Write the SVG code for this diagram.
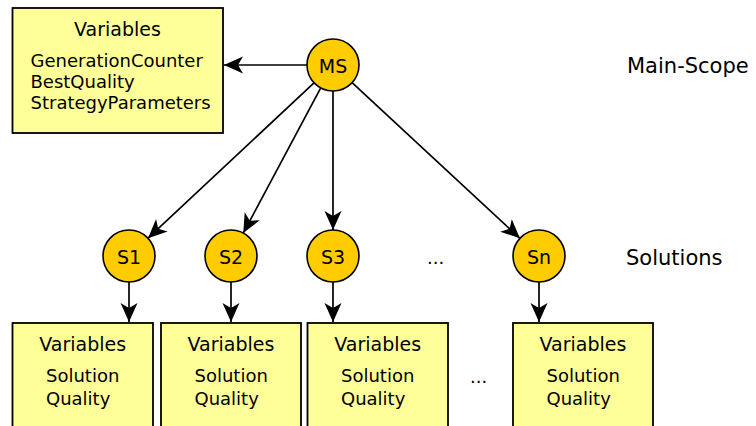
<svg xmlns="http://www.w3.org/2000/svg" width="756" height="426" viewBox="0 0 756 426">
  <style>
    .box { fill: #ffff99; stroke: #000; stroke-width: 1.8; }
    .node { fill: #ffcc00; stroke: #000; stroke-width: 1.6; }
    .edge { fill: none; stroke: #000; stroke-width: 1.7; marker-end: url(#arrow); }
    text { font-family: "DejaVu Sans", "Liberation Sans", sans-serif; fill: #000; }
    .title { font-size: 19px; text-anchor: middle; }
    .item { font-size: 18px; }
    .lbl { font-size: 19px; text-anchor: middle; }
    .side { font-size: 21px; }
    .dots { font-size: 18px; }
  </style>
  <defs>
    <!-- concave filled arrowhead, tip at the end of the line -->
    <marker id="arrow" markerUnits="userSpaceOnUse" orient="auto" markerWidth="22" markerHeight="20" refX="19" refY="10" viewBox="0 0 22 20">
      <path d="M19,10 L0,1.5 L5,10 L0,18.5 Z" fill="#000"/>
    </marker>
  </defs>

  <!-- connectors -->
  <g id="connectors">
    <line class="edge" x1="307" y1="65" x2="224" y2="65"/>
    <line class="edge" x1="314" y1="82.8" x2="148" y2="238.2"/>
    <line class="edge" x1="320.75" y1="87.9" x2="243.25" y2="233.1"/>
    <line class="edge" x1="333" y1="91" x2="333" y2="230"/>
    <line class="edge" x1="352.07" y1="82.68" x2="519.93" y2="238.32"/>
    <line class="edge" x1="129" y1="282" x2="129" y2="322"/>
    <line class="edge" x1="231" y1="282" x2="231" y2="322"/>
    <line class="edge" x1="333" y1="282" x2="333" y2="322"/>
    <line class="edge" x1="539" y1="282" x2="539" y2="322"/>
  </g>

  <!-- main scope variables -->
  <g id="main-vars">
    <rect class="box" x="12.5" y="8" width="210.5" height="125"/>
    <text class="title" x="117.5" y="36">Variables</text>
    <text class="item" x="30.5" y="67">GenerationCounter</text>
    <text class="item" x="30.5" y="88">BestQuality</text>
    <text class="item" x="30.5" y="109">StrategyParameters</text>
  </g>

  <g id="ms">
    <circle class="node" cx="333" cy="65" r="26"/>
    <text class="lbl" x="333" y="72.5">MS</text>
  </g>

  <g id="s1">
    <circle class="node" cx="129" cy="256" r="26"/>
    <text class="lbl" x="129" y="264">S1</text>
  </g>
  <g id="s2">
    <circle class="node" cx="231" cy="256" r="26"/>
    <text class="lbl" x="231" y="264">S2</text>
  </g>
  <g id="s3">
    <circle class="node" cx="333" cy="256" r="26"/>
    <text class="lbl" x="333" y="264">S3</text>
  </g>
  <g id="sn">
    <circle class="node" cx="539" cy="256" r="26"/>
    <text class="lbl" x="539" y="264">Sn</text>
  </g>

  <!-- solution variables -->
  <g id="vars1">
    <rect class="box" x="12.5" y="323" width="140.5" height="120"/>
    <text class="title" x="82.75" y="351">Variables</text>
    <text class="item" x="46" y="382">Solution</text>
    <text class="item" x="46" y="405">Quality</text>
  </g>
  <g id="vars2">
    <rect class="box" x="161" y="323" width="140" height="120"/>
    <text class="title" x="231" y="351">Variables</text>
    <text class="item" x="194.5" y="382">Solution</text>
    <text class="item" x="194.5" y="405">Quality</text>
  </g>
  <g id="vars3">
    <rect class="box" x="307.5" y="323" width="140.5" height="120"/>
    <text class="title" x="377.75" y="351">Variables</text>
    <text class="item" x="341" y="382">Solution</text>
    <text class="item" x="341" y="405">Quality</text>
  </g>
  <g id="varsn">
    <rect class="box" x="513" y="323" width="140" height="120"/>
    <text class="title" x="583" y="351">Variables</text>
    <text class="item" x="546.5" y="382">Solution</text>
    <text class="item" x="546.5" y="405">Quality</text>
  </g>

  <text class="dots" x="427" y="264">...</text>
  <text class="dots" x="470" y="383">...</text>

  <text class="side" x="627" y="73">Main-Scope</text>
  <text class="side" x="626" y="265">Solutions</text>
</svg>
